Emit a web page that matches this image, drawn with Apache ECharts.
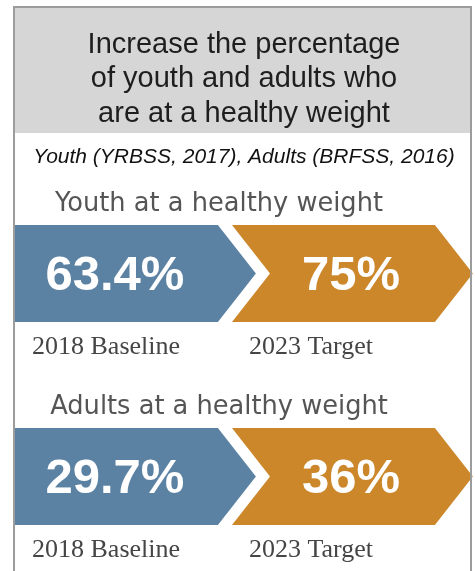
<!DOCTYPE html>
<html>
<head>
<meta charset="utf-8">
<script src="https://cdn.jsdelivr.net/npm/echarts@6/dist/echarts.min.js"></script>
<style>html,body{margin:0;padding:0;background:#fff;}#c{width:475px;height:571px;}</style>
</head>
<body>
<div id="c"></div>
<script>
// ---- data ----
const titleLines = ['Increase the percentage', 'of youth and adults who', 'are at a healthy weight'];
const sourceNote = 'Youth (YRBSS, 2017), Adults (BRFSS, 2016)';
const rows = ['Youth at a healthy weight', 'Adults at a healthy weight'];
const stages = ['2018 Baseline', '2023 Target'];
const baselineValues = [63.4, 29.7];
const targetValues = [75, 36];

const BLUE = '#5b82a3';
const ORANGE = '#cc872b';

function fmt(v) { return (Math.round(v * 10) / 10) + '%'; }

function renderArrow(params, api) {
  const stage = api.value(0);
  const row = api.value(1);
  const val = api.value(2);
  const c = api.coord([stage, row]);
  const bw = api.size([1, 0])[0];
  const bh = api.size([0, 1])[1];
  const x0 = c[0] - bw / 2;
  const y = c[1];
  const h = bh * 0.239;
  const flatEnd = x0 + 0.935 * bw;
  const tip = x0 + 1.11 * bw;
  const notch = x0 + 0.175 * bw;
  const pts = [[x0, y - h], [flatEnd, y - h], [tip, y], [flatEnd, y + h], [x0, y + h]];
  if (stage > 0) pts.push([notch, y]);
  const innerLeft = stage > 0 ? notch : x0;
  const children = [
    { type: 'polygon', shape: { points: pts }, style: { fill: api.visual('color') } },
    { type: 'text', x: (innerLeft + flatEnd) / 2 - 1.5, y: y + 2.5,
      style: { text: fmt(val), font: 'bold 49px "Liberation Sans", Arial, sans-serif', fill: '#ffffff',
               textAlign: 'center', textVerticalAlign: 'middle' } },
    { type: 'text', x: x0 + 17, y: y + 74,
      style: { text: stages[stage], font: '26px "Liberation Serif", "Times New Roman", serif', fill: '#454545',
               textAlign: 'left', textVerticalAlign: 'middle' } }
  ];
  if (stage === 0) {
    children.push({ type: 'text', x: x0 + 204, y: y - 69,
      style: { text: rows[row], font: '25.7px "DejaVu Sans", sans-serif', fill: '#555555',
               textAlign: 'center', textVerticalAlign: 'middle' } });
  }
  return { type: 'group', children: children };
}

const chart = echarts.init(document.getElementById('c'), null, { renderer: 'canvas' });
chart.setOption({
  animation: false,
  backgroundColor: '#ffffff',
  grid: { left: 15, top: 172, width: 434, height: 406, outerBoundsMode: 'none', containLabel: false },
  xAxis: { type: 'category', data: stages, show: false },
  yAxis: { type: 'category', data: rows, inverse: true, show: false },
  graphic: [
    { type: 'rect', shape: { x: 15, y: 8, width: 455, height: 125 }, style: { fill: '#d6d6d6' }, z: 1 },
    { type: 'text', x: 244, y: 79, z: 2,
      style: { text: titleLines.join('\n'), font: '29px "Liberation Sans", Arial, sans-serif', lineHeight: 34.5,
               fill: '#1e1e1e', textAlign: 'center', textVerticalAlign: 'middle' } },
    { type: 'text', x: 244, y: 157, z: 2,
      style: { text: sourceNote, font: 'italic 21px "Liberation Sans", Arial, sans-serif',
               fill: '#111111', textAlign: 'center', textVerticalAlign: 'middle' } },
    { type: 'polyline', shape: { points: [[14, 580], [14, 7], [471, 7], [471, 580]] },
      style: { stroke: '#9c9c9c', lineWidth: 2, fill: null }, z: 100 }
  ],
  series: [
    { type: 'custom', name: 'Baseline', itemStyle: { color: BLUE }, renderItem: renderArrow,
      data: baselineValues.map((v, i) => [0, i, v]), z: 5 },
    { type: 'custom', name: 'Target', itemStyle: { color: ORANGE }, renderItem: renderArrow,
      data: targetValues.map((v, i) => [1, i, v]), z: 5 }
  ]
});
</script>
</body>
</html>
